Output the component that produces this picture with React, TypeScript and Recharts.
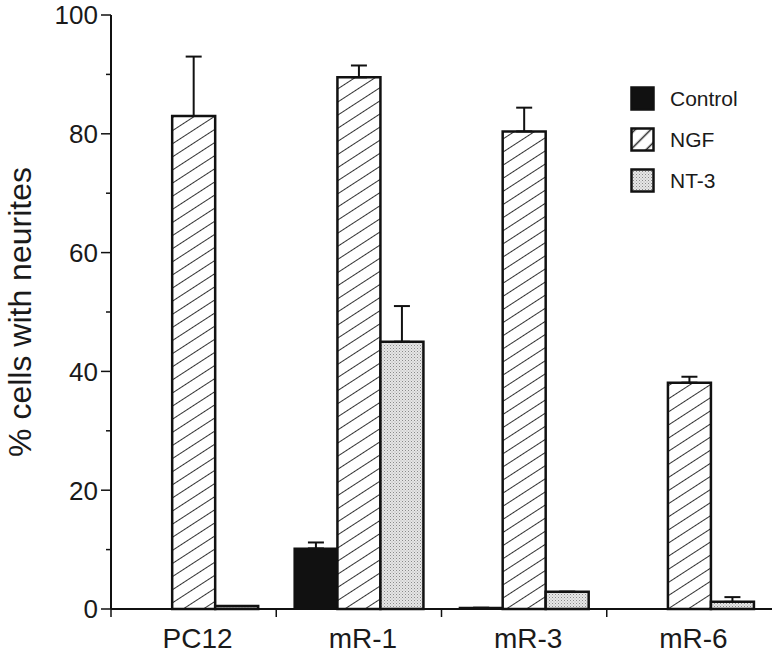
import React from 'react';
import { BarChart, Bar, XAxis, YAxis, ErrorBar } from 'recharts';

const categories = ['PC12', 'mR-1', 'mR-3', 'mR-6'];
const controlValues = [0, 10.2, 0.2, 0];
const controlErrors = [0, 1, 0, 0];
const ngfValues = [83, 89.5, 80.4, 38.1];
const ngfErrors = [10, 2, 4, 1];
const nt3Values = [0.5, 45, 2.9, 1.2];
const nt3Errors = [0, 6, 0, 0.8];
const yTicks = [0, 10, 20, 30, 40, 50, 60, 70, 80, 90, 100];
const seriesNames = ['Control', 'NGF', 'NT-3'];

const data = categories.map((c, i) => ({
  name: c,
  control: controlValues[i],
  controlErr: [0, controlErrors[i]],
  ngf: ngfValues[i],
  ngfErr: [0, ngfErrors[i]],
  nt3: nt3Values[i],
  nt3Err: [0, nt3Errors[i]],
}));

const W = 773;
const H = 654;
const LEFT = 111;
const RIGHT = 1;
const FONT = '"Liberation Sans", Arial, Helvetica, sans-serif';
const BAND = (W - LEFT - RIGHT) / categories.length;

const YTick = (props: any) => {
  const { x, y, payload } = props;
  const major = payload.value % 20 === 0;
  return (
    <g>
      <line x1={x} y1={y} x2={x - (major ? 10 : 5)} y2={y} stroke="#111" strokeWidth={1.5} />
      {major && (
        <text x={x - 13} y={y} dy="0.36em" textAnchor="end" fontFamily={FONT} fontSize={26} fill="#1a1a1a">
          {payload.value}
        </text>
      )}
    </g>
  );
};

const XTick = (props: any) => {
  const { x, y, payload } = props;
  const bx = x - BAND / 2;
  return (
    <g>
      <line x1={bx} y1={y} x2={bx} y2={y + 8} stroke="#111" strokeWidth={1.5} />
      <text x={x + 4} y={y + 39} textAnchor="middle" fontFamily={FONT} fontSize={28} fill="#1a1a1a">
        {payload.value}
      </text>
    </g>
  );
};

const fills = ['#111', 'url(#hatch)', 'url(#stipple)'];

const LegendBox = () => (
  <div
    style={{
      position: 'absolute',
      left: 630,
      top: 78,
      fontFamily: FONT,
      fontSize: 21,
      color: '#1a1a1a',
    }}
  >
    {seriesNames.map((n, i) => (
      <div key={n} style={{ display: 'flex', alignItems: 'center', height: 41 }}>
        <svg width={25} height={25} style={{ marginRight: 15 }}>
          <defs>
            <pattern id={'lhatch' + i} patternUnits="userSpaceOnUse" width={11} height={11} patternTransform="rotate(-45)">
              <rect width={11} height={11} fill="#fff" />
              <line x1={0} y1={5.5} x2={11} y2={5.5} stroke="#222" strokeWidth={1.5} />
            </pattern>
          </defs>
          <rect
            x={1.5}
            y={1.5}
            width={22}
            height={22}
            fill={i === 1 ? 'url(#lhatch1)' : fills[i]}
            stroke="#111"
            strokeWidth={2.5}
          />
        </svg>
        <span>{n}</span>
      </div>
    ))}
  </div>
);

export default function App() {
  return (
    <div style={{ position: 'absolute', left: 0, top: 0, width: W, height: H, background: '#fff' }}>
      <BarChart
        width={W}
        height={H}
        data={data}
        margin={{ top: 15, right: RIGHT, bottom: 0, left: 0 }}
        barCategoryGap="11%"
        barGap={0}
      >
        <defs>
          <pattern id="hatch" patternUnits="userSpaceOnUse" width={11} height={11} patternTransform="rotate(-33)">
            <rect width={11} height={11} fill="#fff" />
            <line x1={0} y1={5.5} x2={11} y2={5.5} stroke="#333" strokeWidth={1} />
          </pattern>
          <pattern id="stipple" patternUnits="userSpaceOnUse" width={3} height={3}>
            <rect width={3} height={3} fill="#e6e6e6" />
            <rect x={0} y={0} width={1} height={1} fill="#8a8a8a" />
            <rect x={1.5} y={1.5} width={1} height={1} fill="#aaa" />
          </pattern>
        </defs>
        <XAxis
          dataKey="name"
          height={45}
          tickSize={0}
          tickMargin={0}
          tickLine={false}
          axisLine={{ stroke: '#111', strokeWidth: 2 }}
          tick={<XTick />}
          interval={0}
        />
        <YAxis
          width={LEFT}
          domain={[0, 100]}
          ticks={yTicks}
          interval={0}
          tickSize={0}
          tickMargin={0}
          tickLine={false}
          axisLine={{ stroke: '#111', strokeWidth: 2 }}
          tick={<YTick />}
          label={{
            value: '% cells with neurites',
            angle: -90,
            position: 'insideLeft',
            offset: 0,
            style: { fontFamily: FONT, fontSize: 32, fill: '#1a1a1a', textAnchor: 'middle' },
            dx: 20,
          }}
        />
        <Bar dataKey="control" name="Control" fill="#111" stroke="#111" strokeWidth={2} isAnimationActive={false}>
          <ErrorBar dataKey="controlErr" direction="y" width={8} stroke="#111" strokeWidth={2} isAnimationActive={false} />
        </Bar>
        <Bar dataKey="ngf" name="NGF" fill="url(#hatch)" stroke="#111" strokeWidth={2.5} isAnimationActive={false}>
          <ErrorBar dataKey="ngfErr" direction="y" width={8} stroke="#111" strokeWidth={2} isAnimationActive={false} />
        </Bar>
        <Bar dataKey="nt3" name="NT-3" fill="url(#stipple)" stroke="#111" strokeWidth={2.5} isAnimationActive={false}>
          <ErrorBar dataKey="nt3Err" direction="y" width={8} stroke="#111" strokeWidth={2} isAnimationActive={false} />
        </Bar>
      </BarChart>
      <LegendBox />
    </div>
  );
}
